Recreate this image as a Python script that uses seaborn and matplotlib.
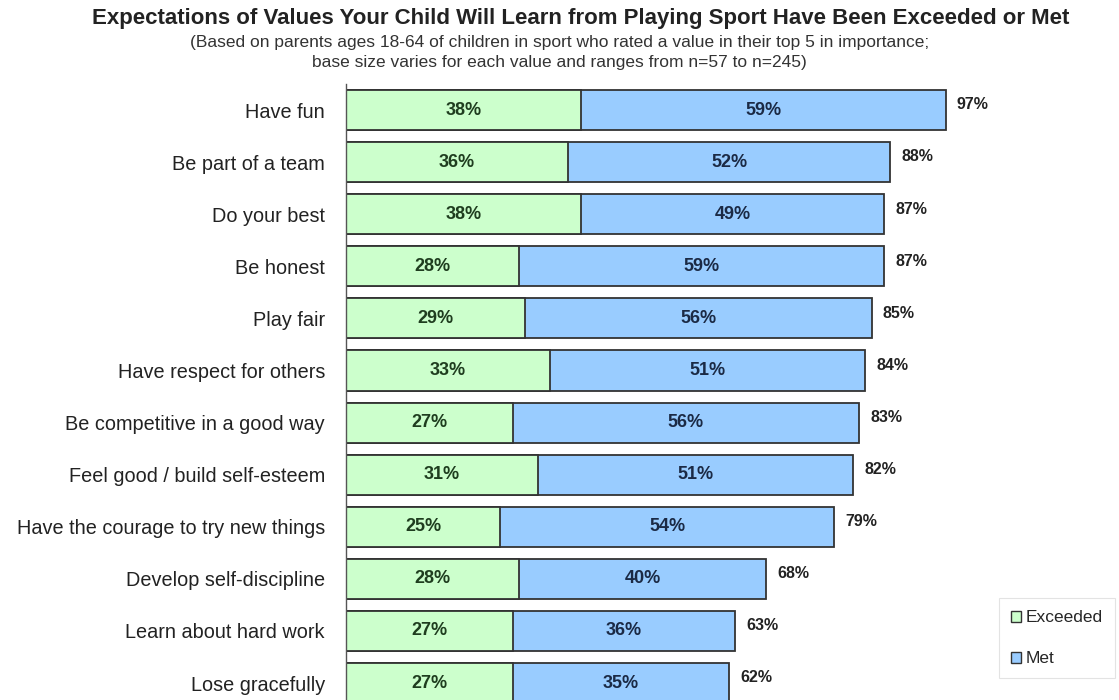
import numpy as np
import pandas as pd
import matplotlib
matplotlib.use("Agg")
import matplotlib.pyplot as plt
import seaborn as sns
from matplotlib.patches import Patch

# values
values = ['Have fun', 'Be part of a team', 'Do your best', 'Be honest', 'Play fair',
          'Have respect for others', 'Be competitive in a good way',
          'Feel good / build self-esteem', 'Have the courage to try new things',
          'Develop self-discipline', 'Learn about hard work', 'Lose gracefully']
exceeded = [38, 36, 38, 28, 29, 33, 27, 31, 25, 28, 27, 27]
met = [59, 52, 49, 59, 56, 51, 56, 51, 54, 40, 36, 35]
total = [97, 88, 87, 87, 85, 84, 83, 82, 79, 68, 63, 62]

df = pd.DataFrame({'value': values, 'Exceeded': exceeded, 'Met': met, 'Total': total})
df['Stack'] = df['Exceeded'] + df['Met']

sns.set_style('white')
plt.rcParams['font.family'] = ['Liberation Sans', 'DejaVu Sans']

green = '#CCFFCC'
blue = '#99CCFF'

fig = plt.figure(figsize=(11.19, 7.0), dpi=100)
ax = fig.add_axes([0.309, -0.013, 0.691, 0.893])

# stacked bars: full stack in blue, exceeded drawn over it in green
sns.barplot(data=df, y='value', x='Stack', orient='h', color=blue, edgecolor='#333333',
            linewidth=1.3, width=0.77, ax=ax, saturation=1)
sns.barplot(data=df, y='value', x='Exceeded', orient='h', color=green, edgecolor='#333333',
            linewidth=1.3, width=0.77, ax=ax, saturation=1)

for i in range(len(values)):
    ax.text(exceeded[i] / 2, i, f'{exceeded[i]}%', ha='center', va='center',
            fontsize=13, fontweight='bold', color='#1f3d1f')
    ax.text(exceeded[i] + met[i] / 2, i, f'{met[i]}%', ha='center', va='center',
            fontsize=13, fontweight='bold', color='#1b2a45')
    ax.text(df['Stack'][i] + 1.8, i - 0.1, f'{total[i]}%', ha='left', va='center',
            fontsize=11.5, fontweight='bold', color='#222222')

ax.set_xlim(0, 125)
ax.set_ylim(len(values) - 0.5, -0.5)
ax.set_xlabel('')
ax.set_ylabel('')
ax.set_xticks([])
for s in ['top', 'right', 'bottom']:
    ax.spines[s].set_visible(False)
ax.spines['left'].set_color('#555555')
ax.spines['left'].set_linewidth(1.0)
ax.set_yticks(range(len(values)))
ax.set_yticklabels(values, fontsize=14.3, color='#222222')
ax.tick_params(axis='y', which='major', length=0, pad=15)
ax.set_yticks(np.arange(-0.5, len(values), 1), minor=True)
ax.tick_params(axis='y', which='minor', length=4, width=1, color='#555555', direction='out')

fig.text(0.519, 0.974, 'Expectations of Values Your Child Will Learn from Playing Sport Have Been Exceeded or Met',
         ha='center', va='center', fontsize=16, fontweight='bold', color='#222222')
fig.text(0.500, 0.939, '(Based on parents ages 18-64 of children in sport who rated a value in their top 5 in importance;',
         ha='center', va='center', fontsize=12.5, color='#333333')
fig.text(0.500, 0.910, 'base size varies for each value and ranges from n=57 to n=245)',
         ha='center', va='center', fontsize=12.5, color='#333333')

handles = [Patch(facecolor=green, edgecolor='#333333', label='Exceeded'),
           Patch(facecolor=blue, edgecolor='#333333', label='Met')]
leg = fig.legend(handles=handles, loc='upper right', bbox_to_anchor=(0.998, 0.148),
                 fontsize=12.5, frameon=True, fancybox=False, handlelength=0.6,
                 handleheight=0.6, handletextpad=0.25, labelspacing=1.5, borderpad=0.7,
                 borderaxespad=0.1)
leg.get_frame().set_edgecolor('#dddddd')
leg.get_frame().set_linewidth(0.8)

plt.savefig('out.png', dpi=100)
